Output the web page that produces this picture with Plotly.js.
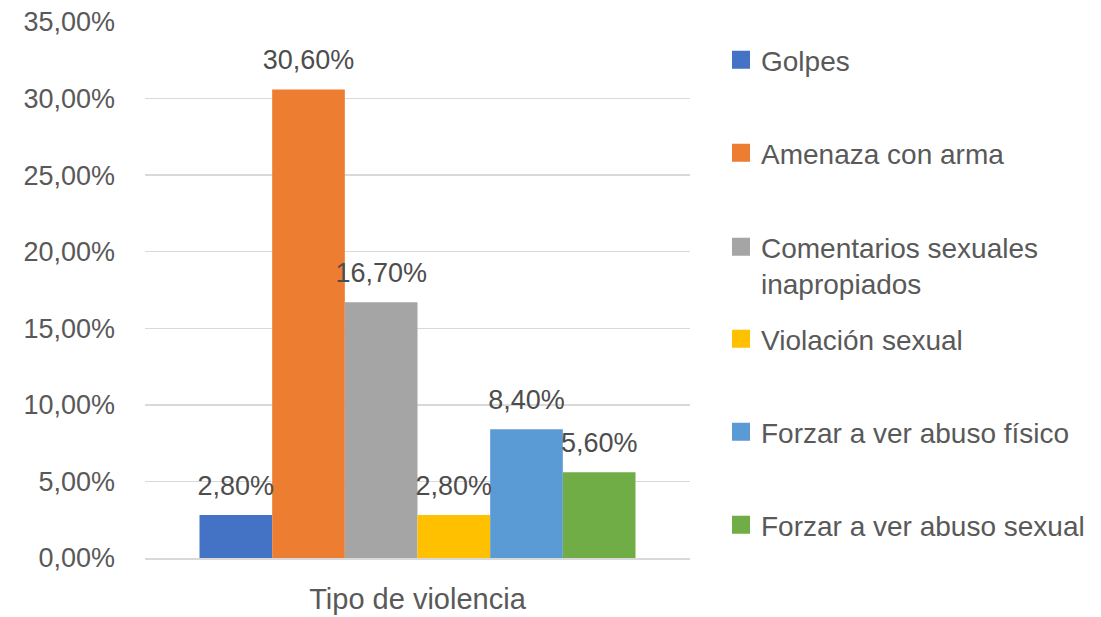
<!DOCTYPE html>
<html><head><meta charset="utf-8">
<script src="https://cdn.plot.ly/plotly-3.0.1.min.js"></script>
<style>html,body{margin:0;padding:0;background:#fff}</style>
</head><body><div id="chart" style="width:1101px;height:617px"></div>
<script>
const category = ["Tipo de violencia"];
const seriesNames = ["Golpes","Amenaza con arma","Comentarios sexuales<br>inapropiados","Violación sexual","Forzar a ver abuso físico","Forzar a ver abuso sexual"];
const seriesValues = [0.028, 0.306, 0.167, 0.028, 0.084, 0.056];
const seriesColors = ["#4472C4","#ED7D31","#A5A5A5","#FFC000","#5B9BD5","#70AD47"];
const yTicks = [0,0.05,0.10,0.15,0.20,0.25,0.30,0.35];

const font = "Liberation Sans, Arial, sans-serif";
const legendIds = seriesNames.map((n,i)=> i===0 ? 'legend' : 'legend'+(i+1));
// legend item vertical centres (px from top) - styling only
const legendY = [60, 153, 265, 339, 432, 525];

const bars = seriesNames.map((n,i)=>({
  type:'bar', name:n, x:category, y:[seriesValues[i]],
  marker:{color:seriesColors[i]}, showlegend:false, hoverinfo:'skip'
}));
const labels = seriesNames.map((n,i)=>({
  type:'scatter', x:category, y:[seriesValues[i]], mode:'markers+text',
  orientation:'v', showlegend:false, cliponaxis:false, hoverinfo:'skip',
  marker:{size:20, opacity:0},
  texttemplate:'%{y:.2%}', textposition:'top center',
  textfont:{size:27,color:'#4d4d4d',family:font}
}));
// legend entries (square swatches) on a hidden overlay axis, no visible points
const keys = seriesNames.map((n,i)=>({
  type:'scatter', name:n, x:[null], y:[null], mode:'markers', xaxis:'x2',
  legend:legendIds[i], hoverinfo:'skip', showlegend:true,
  marker:{symbol:'square', size:16, color:seriesColors[i], line:{width:2,color:seriesColors[i]}}
}));
const layout = {
  separators:',.',
  margin:{l:145,r:411,t:22,b:59},
  barmode:'group', bargap:0.2, bargroupgap:0,
  scattermode:'group', scattergap:0.2,
  font:{family:font,color:'#595959'},
  plot_bgcolor:'#fff', paper_bgcolor:'#fff',
  xaxis:{showline:true,linecolor:'#d9d9d9',linewidth:1.5,tickfont:{size:29,color:'#595959'},ticks:'',ticklabelstandoff:15},
  xaxis2:{overlaying:'x',visible:false,range:[0,1]},
  yaxis:{range:[0,0.35],tickvals:yTicks,tickformat:'.2%',gridcolor:'#d9d9d9',gridwidth:1.5,
    zeroline:false,showline:false,tickfont:{size:27,color:'#595959'},ticks:'',ticklabelstandoff:29},
  showlegend:true
};
legendIds.forEach((id,i)=>{
  layout[id] = {xref:'container',yref:'container',x:721/1101,y:1-legendY[i]/617,
    xanchor:'left',yanchor:'middle',valign:'top',itemwidth:30,itemsizing:'trace',
    font:{size:28,color:'#595959',family:font},bgcolor:'rgba(0,0,0,0)'};
});
Plotly.newPlot('chart',bars.concat(labels,keys),layout,{staticPlot:true});
</script></body></html>
